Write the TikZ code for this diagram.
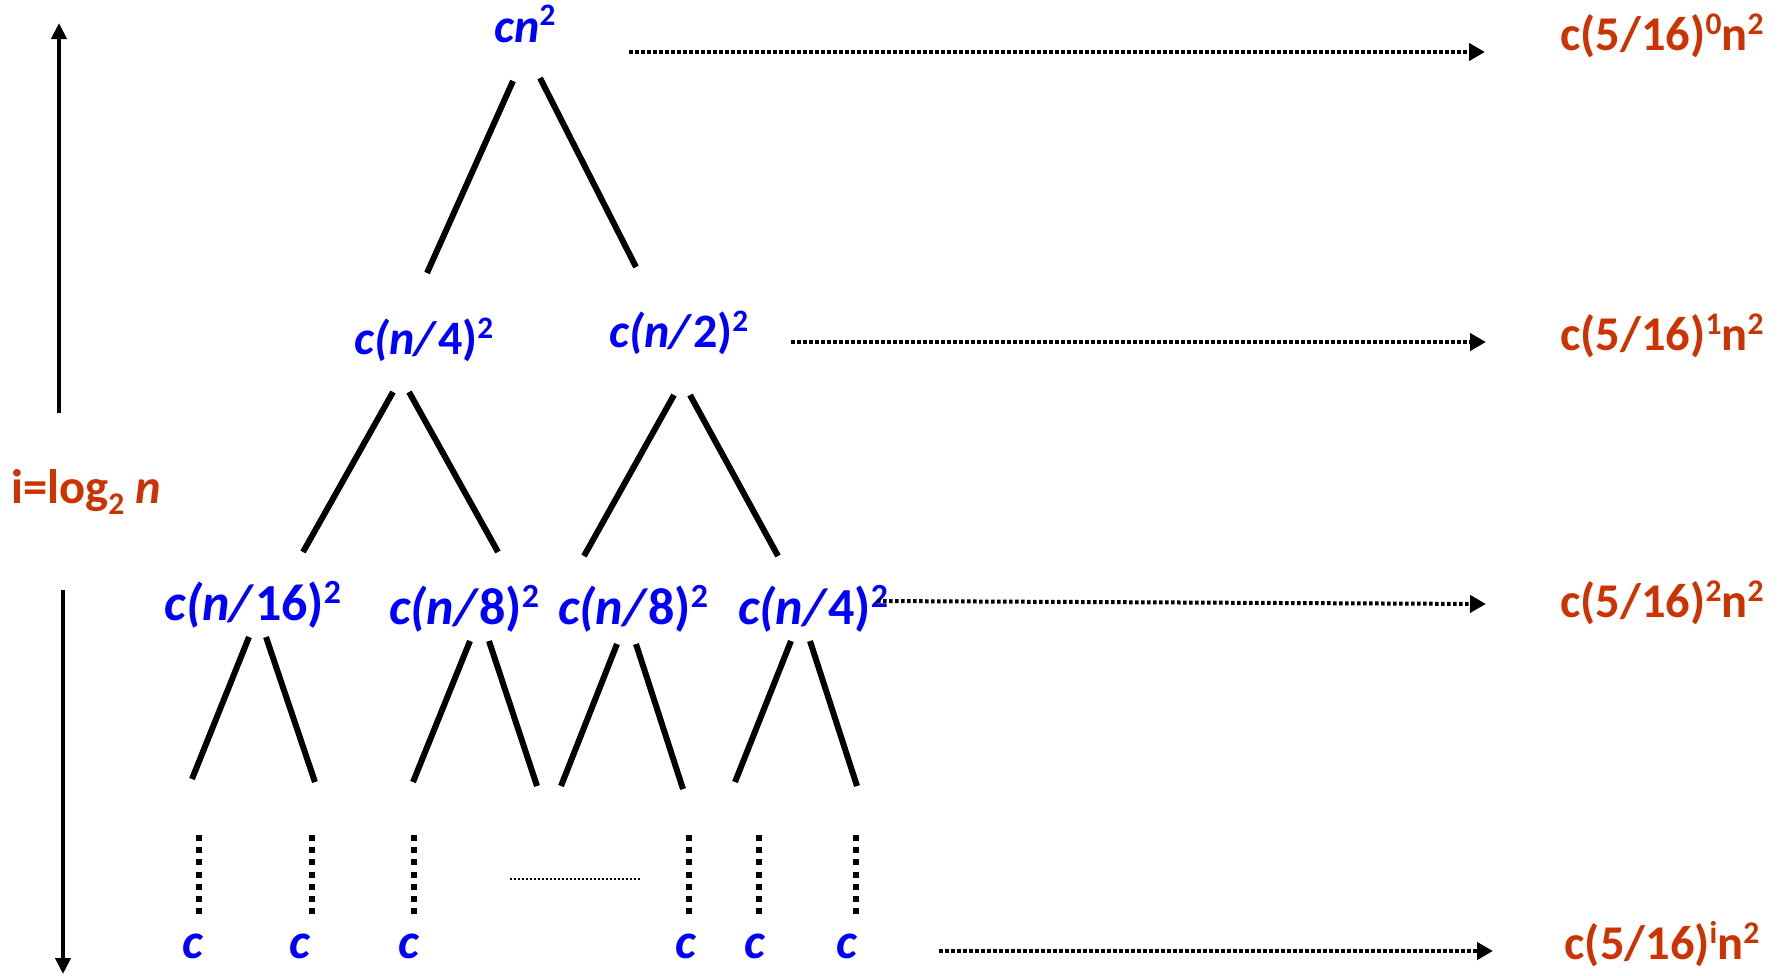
\documentclass[tikz,border=0pt]{standalone}
\usepackage{fontspec}
\setmainfont{Carlito}
\usepackage{graphicx}
\usetikzlibrary{arrows.meta,calc}
\definecolor{tblue}{RGB}{0,0,255}
\definecolor{tred}{RGB}{204,51,0}
\newcommand\sups[1]{\raisebox{0.34em}{\scalebox{0.65}{#1}}}
\newcommand\subs[1]{\raisebox{-0.22em}{\scalebox{0.65}{#1}}}
\tikzset{
 blab/.style={inner sep=0pt, text=tblue, font=\fontsize{48}{48}\selectfont\bfseries},
 blabl/.style={blab, font=\fontsize{52}{52}\selectfont\bfseries},
 leaf/.style={blab, font=\fontsize{50}{50}\selectfont\bfseries},
 rlab/.style={inner sep=0pt, text=tred, font=\fontsize{48.5}{48.5}\selectfont\bfseries},
 edge/.style={line width=6pt},
 vdots/.style={line width=6pt, dash pattern=on 6pt off 6.2pt},
 harrow/.style={line width=4pt, dash pattern=on 3.5pt off 2.5pt, -{Triangle[length=16pt,width=17pt]}},
 varrow/.style={line width=4pt, -{Triangle[length=16pt,width=15pt]}},
 ellip/.style={line width=2pt, dash pattern=on 2pt off 2pt},
}
\begin{document}
\begin{tikzpicture}[x=1pt,y=-1pt]
\useasboundingbox (0,0) rectangle (1783,975);
% tree nodes
\node[blab] (r)  at (525,24)  {\textit{cn}\sups{2}};
\node[blab] (a)  at (424,340) {\textit{c(n/}4)\sups{2}};
\node[blab] (b)  at (679,333) {\textit{c(n/}2)\sups{2}};
\node[blabl] (c1) at (253,605) {\textit{c(n/}16)\sups{2}};
\node[blabl] (c2) at (464,609) {\textit{c(n/}8)\sups{2}};
\node[blabl] (c3) at (633,609) {\textit{c(n/}8)\sups{2}};
\node[blabl] (c4) at (813,609) {\textit{c(n/}4)\sups{2}};
\node[leaf] (L1) at (193,946) {\textit{c}};
\node[leaf] (L2) at (300,946) {\textit{c}};
\node[leaf] (L3) at (409,946) {\textit{c}};
\node[leaf] (L4) at (686,946) {\textit{c}};
\node[leaf] (L5) at (755,946) {\textit{c}};
\node[leaf] (L6) at (847,946) {\textit{c}};
% sums
\node[rlab] (s0) at (1662,36)  {c(5/16)\sups{0}n\sups{2}};
\node[rlab] (s1) at (1662,336) {c(5/16)\sups{1}n\sups{2}};
\node[rlab] (s2) at (1662,603) {c(5/16)\sups{2}n\sups{2}};
\node[rlab] (s3) at (1662,944) {c(5/16)\sups{i}n\sups{2}};
% height label
\node[rlab] (lab) at (86,492) {i=log\subs{2} \textit{n}};
\coordinate (top) at (59,23);
\coordinate (bot) at (63,974);
\draw[varrow] ($(lab)+(-27,-79)$) -- (top);
\draw[varrow] ($(lab)+(-23,98)$) -- (bot);
% edges
\draw[edge] ($(r)+(-12,57)$) -- ($(a)+(3,-67)$);
\draw[edge] ($(r)+(15,54)$) -- ($(b)+(-43,-66)$);
\draw[edge] ($(a)+(-31,52)$) -- ($(c1)+(50,-53)$);
\draw[edge] ($(a)+(-15,52)$) -- ($(c2)+(34,-57)$);
\draw[edge] ($(b)+(-5,62)$) -- ($(c3)+(-49,-53)$);
\draw[edge] ($(b)+(11,62)$) -- ($(c4)+(-35,-53)$);
\draw[edge] ($(c1)+(-4,32)$) -- ($(c1)+(-61,174)$);
\draw[edge] ($(c1)+(13,32)$) -- ($(c1)+(62,177)$);
\draw[edge] ($(c2)+(6,32)$) -- ($(c2)+(-51,173)$);
\draw[edge] ($(c2)+(25,32)$) -- ($(c2)+(73,177)$);
\draw[edge] ($(c3)+(-16,35)$) -- ($(c3)+(-72,177)$);
\draw[edge] ($(c3)+(3,35)$) -- ($(c3)+(50,180)$);
\draw[edge] ($(c4)+(-22,32)$) -- ($(c4)+(-78,173)$);
\draw[edge] ($(c4)+(-3,32)$) -- ($(c4)+(44,177)$);
% vertical dots
\draw[vdots] ($(L1)+(6,-111)$) -- ($(L1)+(6,-32)$);
\draw[vdots] ($(L2)+(12,-111)$) -- ($(L2)+(12,-32)$);
\draw[vdots] ($(L3)+(5,-111)$) -- ($(L3)+(5,-32)$);
\draw[vdots] ($(L4)+(3,-111)$) -- ($(L4)+(3,-32)$);
\draw[vdots] ($(L5)+(4,-111)$) -- ($(L5)+(4,-32)$);
\draw[vdots] ($(L6)+(9,-111)$) -- ($(L6)+(9,-32)$);
\coordinate (e1) at (510,879);
\coordinate (e2) at (641,879);
\draw[ellip] (e1) -- (e2);
% level arrows
\draw[harrow] ($(r)+(104,28)$) -- ($(s0)+(-177,16)$);
\draw[harrow] ($(b)+(112,9)$) -- ($(s1)+(-176,6)$);
\draw[harrow] ($(c4)+(64,-8)$) -- ($(s2)+(-176,1)$);
\draw[harrow] ($(L6)+(92,5)$) -- ($(s3)+(-169,7)$);
\end{tikzpicture}
\end{document}
